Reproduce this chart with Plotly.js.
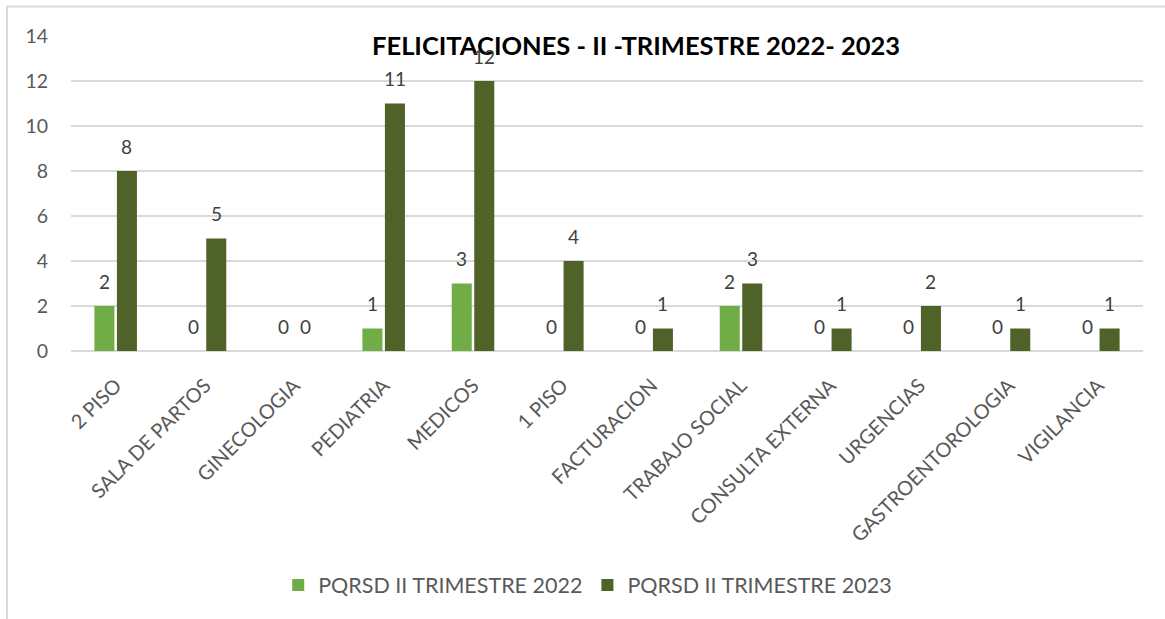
<!DOCTYPE html>
<html>
<head>
<meta charset="utf-8">
<script src="https://cdn.plot.ly/plotly-3.0.1.min.js"></script>
<style>html,body{margin:0;padding:0;background:#fff;}#chart{width:1165px;height:619px;}</style>
</head>
<body>
<div id="chart"></div>
<script>
const categories = ["2 PISO","SALA DE PARTOS","GINECOLOGIA","PEDIATRIA","MEDICOS","1 PISO","FACTURACION","TRABAJO SOCIAL","CONSULTA EXTERNA","URGENCIAS","GASTROENTOROLOGIA","VIGILANCIA"];
const series2022 = [2,0,0,1,3,0,0,2,0,0,0,0];
const series2023 = [8,5,0,11,12,4,1,3,1,2,1,1];
const seriesNames = ["PQRSD II TRIMESTRE 2022","PQRSD II TRIMESTRE 2023"];
const chartTitle = "FELICITACIONES - II -TRIMESTRE 2022- 2023";
const yTicks = [0,2,4,6,8,10,12,14];

const fontFam = "Lato, 'Open Sans', sans-serif";
const labelFont = {family: fontFam, size: 19, color: "#404040"};

const traces = [
  {type:"bar", name: seriesNames[0], x: categories, y: series2022,
   marker:{color:"#70AD47"}, hoverinfo:"none"},
  {type:"bar", name: seriesNames[1], x: categories, y: series2023,
   marker:{color:"#4F6228"}, hoverinfo:"none"}
];

// data labels placed above each bar, offset to each bar's slot in the group
const annotations = [];
[series2022, series2023].forEach((vals, si) => {
  vals.forEach((v, i) => {
    annotations.push({x: categories[i], y: v, xref:"x", yref:"y", text: String(v),
      showarrow:false, xshift: si === 0 ? -11.25 : 11.25, yshift: 25, yanchor:"middle",
      font: labelFont});
  });
});

const layout = {
  width:1165, height:619,
  margin:{l:71, r:22, t:36, b:268},
  paper_bgcolor:"#fff", plot_bgcolor:"#fff",
  barmode:"group", bargap:0.496, bargroupgap:0.11,
  title:{text:"<b>"+chartTitle+"</b>", font:{family:fontFam, size:25.5, color:"#000"},
         x:0.546, xanchor:"center", xref:"container", y:0.925, yanchor:"middle", yref:"container"},
  xaxis:{type:"category", tickangle:-45, tickfont:{family:fontFam, size:20, color:"#595959"},
         showgrid:false, showline:false, ticks:"", zeroline:false, automargin:false, ticklabelstandoff:18},
  yaxis:{range:[0,14], tickvals:yTicks, ticktext:yTicks.map(String),
         tickfont:{family:fontFam, size:19.5, color:"#595959"},
         showgrid:true, gridcolor:"#D9D9D9", gridwidth:1.5, zeroline:true, zerolinecolor:"#D9D9D9", zerolinewidth:1.5,
         showline:false, ticks:"", ticklabelstandoff:22, automargin:false},
  showlegend:true,
  legend:{orientation:"h", x:0.482, xanchor:"center", y:-0.743, yanchor:"middle",
          font:{family:fontFam, size:21.5, color:"#595959"}, itemwidth:30, traceorder:"normal"},
  annotations: annotations,
  shapes:[
    {type:"line", xref:"paper", yref:"paper", x0:-0.0597, x1:1.05, y0:1.0937, y1:1.0937, line:{color:"#D9D9D9", width:2}},
    {type:"line", xref:"paper", yref:"paper", x0:-0.0597, x1:-0.0597, y0:1.0937, y1:-0.9, line:{color:"#D9D9D9", width:2}}
  ]
};

Plotly.newPlot("chart", traces, layout, {displayModeBar:false, staticPlot:true});
</script>
</body>
</html>
